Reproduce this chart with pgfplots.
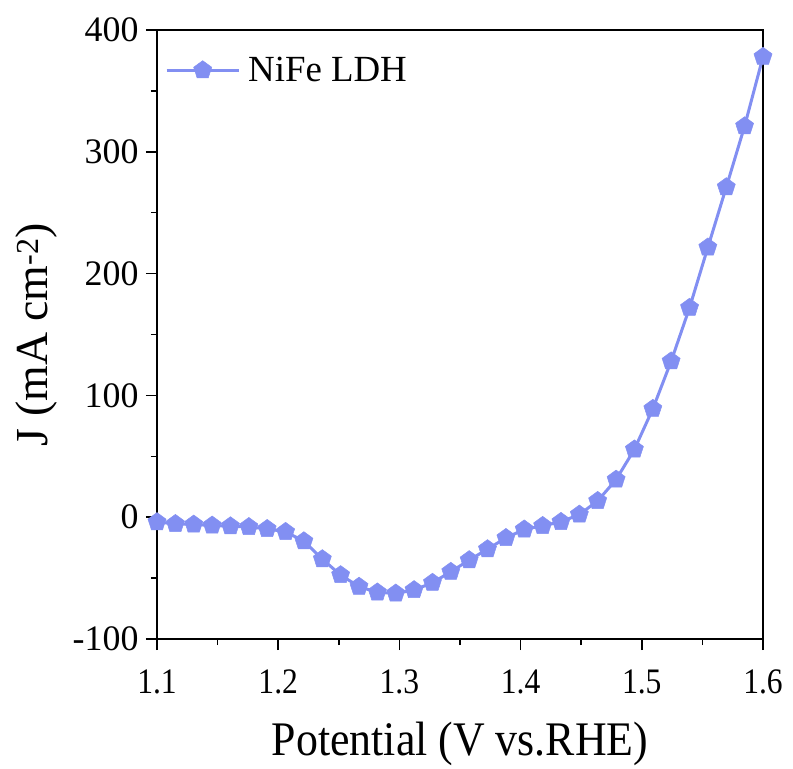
\documentclass[border=0pt]{standalone}
\usepackage{fontspec}
\setmainfont{Liberation Serif}
\newfontfamily\tnr{Liberation Serif}
\usepackage{pgfplots}
\pgfplotsset{compat=1.18}
\definecolor{ldh}{RGB}{130,143,242}
\begin{document}
\begin{tikzpicture}
\useasboundingbox (-157bp,-130bp) rectangle (636bp,639bp);
\begin{axis}[
  at={(0,0)}, anchor=south west,
  scale only axis, width=606bp, height=609bp,
  xmin=1.1, xmax=1.6, ymin=-100, ymax=400,
  xtick={1.1,1.2,...,1.6}, ytick={-100,0,...,400},
  minor x tick num=1, minor y tick num=1,
  xtick pos=bottom, ytick pos=left,
  tick align=outside,
  major tick length=11bp, minor tick length=6bp,
  every tick/.style={black, line width=1.6bp},
  axis line style={line width=1.8bp},
  /pgf/number format/assume math mode=true,
  xticklabels={1.1,1.2,1.3,1.4,1.5,1.6},
  yticklabels={-100,0,100,200,300,400},
  xticklabel style={font=\tnr\fontsize{36}{40}\selectfont, yshift=-16bp, xscale=0.88},
  yticklabel style={font=\tnr\fontsize{36}{40}\selectfont, xshift=-4bp},
  xlabel={Potential (V vs.RHE)},
  ylabel={J (mA cm\textsuperscript{-2})},
  xlabel style={font=\tnr\fontsize{44}{48}\selectfont, at={(axis description cs:0.5,0)}, anchor=base, yshift=-116bp, inner sep=0pt, yscale=1.1},
  ylabel style={font=\tnr\fontsize{46}{50}\selectfont, at={(axis description cs:-0.234,0.5)}, anchor=north, rotate=0, inner sep=0pt},
  legend style={at={(axis description cs:0.0132,0.934)}, anchor=west, draw=none, fill=none, inner sep=0pt, font=\tnr\fontsize{37}{40}\selectfont, nodes={inner sep=0pt}, /tikz/every even column/.append style={column sep=9bp}},
  legend cell align=left,
  legend image code/.code={\draw[mark repeat=2,mark phase=2,#1] plot coordinates {(0bp,0bp) (36bp,0bp) (72bp,0bp)} (80bp,0bp);},
]
\addplot[color=ldh, line width=3bp, mark=pentagon*, mark size=9.5bp, mark options={fill=ldh, draw=ldh, line width=0.5bp}] coordinates {
(1.1000,-4) (1.1152,-5.5) (1.1303,-6) (1.1455,-6.8) (1.1606,-7.4) (1.1758,-8)
(1.1909,-9.6) (1.2061,-12) (1.2212,-19.7) (1.2364,-34.4) (1.2515,-47.5) (1.2667,-57)
(1.2818,-61.7) (1.2970,-62.6) (1.3121,-59.8) (1.3273,-53.8) (1.3424,-44.8) (1.3576,-35.2)
(1.3727,-26.2) (1.3879,-17) (1.4030,-10) (1.4182,-7.1) (1.4333,-3.8) (1.4485,2.2)
(1.4636,13.4) (1.4788,30.9) (1.4939,55.7) (1.5091,89) (1.5242,128) (1.5394,172)
(1.5545,221.5) (1.5697,271) (1.5848,321) (1.6000,378)
};
\addlegendentry{NiFe LDH}
\end{axis}
\end{tikzpicture}
\end{document}
